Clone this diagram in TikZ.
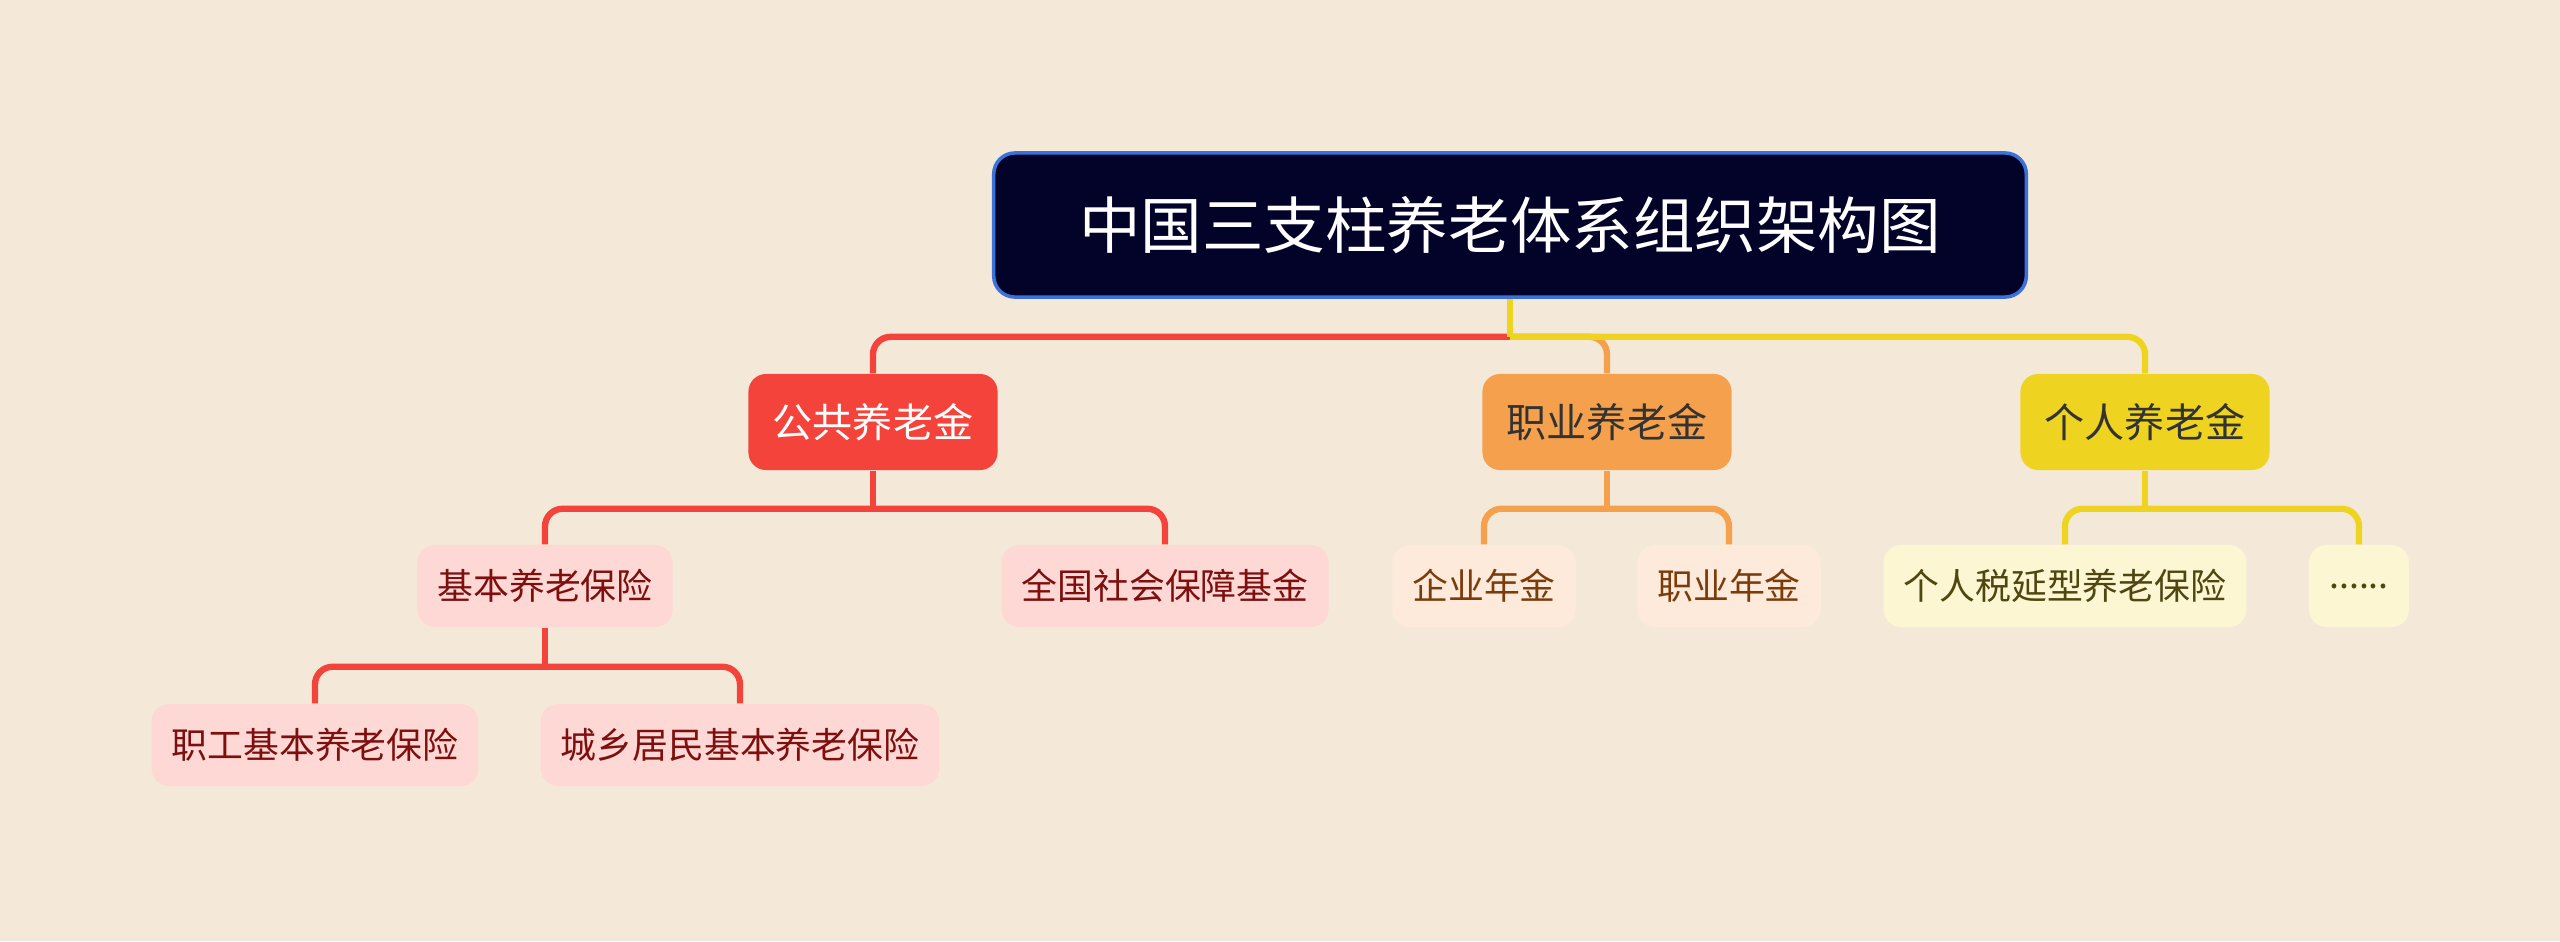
\documentclass[tikz,border=0pt]{standalone}
\usepackage{fontspec}
\setmainfont{Noto Sans CJK SC}
\usepackage{tikz}
\usetikzlibrary{positioning,calc}
\definecolor{pageBg}{HTML}{F4E9D8}
\definecolor{rootFill}{HTML}{03032A}
\definecolor{rootLine}{HTML}{3B72D9}
\definecolor{pubRed}{HTML}{F4433A}
\definecolor{pubLight}{HTML}{FDD8D5}
\definecolor{pubText}{HTML}{7D0F0F}
\definecolor{occOrange}{HTML}{F5A04C}
\definecolor{occLight}{HTML}{FDEADB}
\definecolor{occText}{HTML}{7B3C0C}
\definecolor{indYellow}{HTML}{EFD321}
\definecolor{indLight}{HTML}{FCF7D2}
\definecolor{indText}{HTML}{4F4612}

\begin{document}
\begin{tikzpicture}[
  x=0.01cm,y=-0.01cm,
  root/.style={draw=rootLine,line width=1pt,fill=rootFill,rounded corners=6pt,text=white,
    minimum width=10.32cm,minimum height=1.44cm,font=\fontsize{17.5}{21}\selectfont},
  pillar/.style={rounded corners=5pt,minimum width=2.49cm,minimum height=0.96cm,
    font=\fontsize{11.4}{13}\selectfont},
  leaf/.style={rounded corners=5pt,minimum height=0.82cm,inner xsep=0.2cm,
    font=\fontsize{10.2}{12}\selectfont},
  link/.style={line width=1.8pt,rounded corners=5pt}
]
  \fill[pageBg] (0,0) rectangle (2560,941);
  \useasboundingbox (0,0) rectangle (2560,941);

  \node[root] (top) at (1510,225) {中国三支柱养老体系组织架构图};

  \node[pillar,fill=pubRed,text=white] (pub) at (873,422) {公共养老金};
  \node[pillar,fill=occOrange,text=black!80] (occ) at (1607,422) {职业养老金};
  \node[pillar,fill=indYellow,text=black!80] (ind) at (2145,422) {个人养老金};

  \node[leaf,fill=pubLight,text=pubText] (basic) at (545,586) {基本养老保险};
  \node[leaf,fill=pubLight,text=pubText] (fund) at (1165,586) {全国社会保障基金};
  \node[leaf,fill=pubLight,text=pubText] (staff) at (315,745) {职工基本养老保险};
  \node[leaf,fill=pubLight,text=pubText] (rural) at (740,745) {城乡居民基本养老保险};

  \node[leaf,fill=occLight,text=occText] (ent) at (1484,586) {企业年金};
  \node[leaf,fill=occLight,text=occText] (job) at (1729,586) {职业年金};

  \node[leaf,fill=indLight,text=indText] (tax) at (2065,586) {个人税延型养老保险};
  \node[leaf,fill=indLight,text=indText,minimum width=0.95cm] (more) at (2359,586) {......};

  % trunk
  \coordinate (hub) at ($(top.south)+(0,38)$);
  \draw[link,pubRed] (hub) -| (pub.north);
  \draw[link,occOrange] (hub) -| (occ.north);
  \draw[link,indYellow] (hub) -| (ind.north);
  \draw[link,indYellow] (top.south) -- (hub);

  % public branch
  \coordinate (pubHub) at ($(pub.south)+(0,38)$);
  \draw[link,pubRed] (pub.south) -- (pubHub);
  \draw[link,pubRed] (pubHub) -| (basic.north);
  \draw[link,pubRed] (pubHub) -| (fund.north);
  \coordinate (basicHub) at ($(basic.south)+(0,39)$);
  \draw[link,pubRed] (basic.south) -- (basicHub);
  \draw[link,pubRed] (basicHub) -| (staff.north);
  \draw[link,pubRed] (basicHub) -| (rural.north);

  % occupational branch
  \coordinate (occHub) at ($(occ.south)+(0,38)$);
  \draw[link,occOrange] (occ.south) -- (occHub);
  \draw[link,occOrange] (occHub) -| (ent.north);
  \draw[link,occOrange] (occHub) -| (job.north);

  % individual branch
  \coordinate (indHub) at ($(ind.south)+(0,38)$);
  \draw[link,indYellow] (ind.south) -- (indHub);
  \draw[link,indYellow] (indHub) -| (tax.north);
  \draw[link,indYellow] (indHub) -| (more.north);
\end{tikzpicture}
\end{document}
